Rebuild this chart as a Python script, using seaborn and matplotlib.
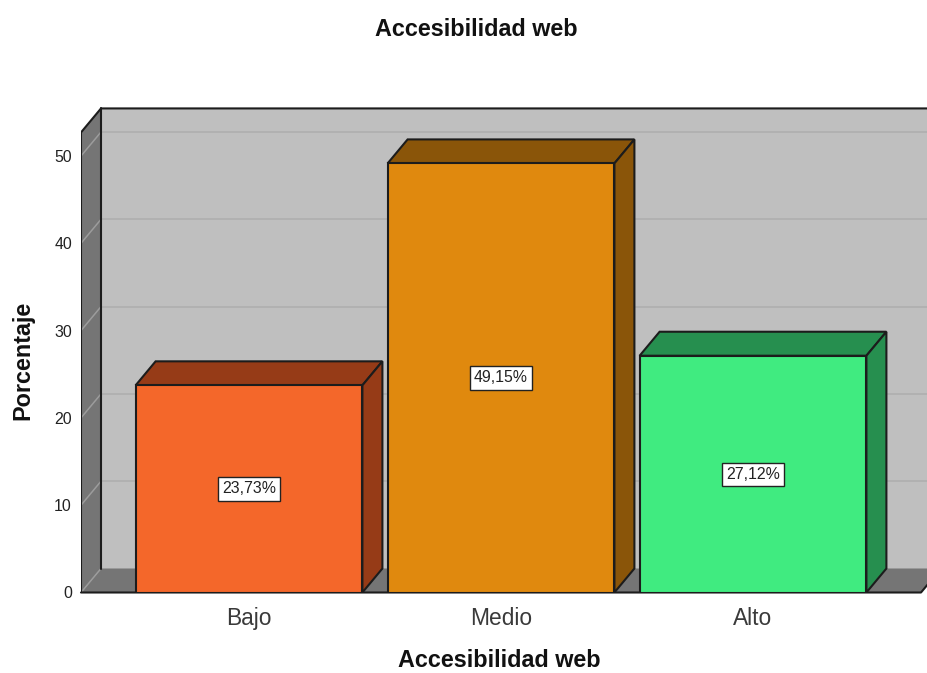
#!/usr/bin/env python3

import matplotlib
matplotlib.use('Agg')
import matplotlib.pyplot as plt
from matplotlib.patches import Rectangle
import pandas as pd
import seaborn as sns

categorias = ['Bajo', 'Medio', 'Alto']
porcentajes = [23.73, 49.15, 27.12]
etiquetas = ['23,73%', '49,15%', '27,12%']
ticks_y = [0, 10, 20, 30, 40, 50]

colores_frente = ['#F4672A', '#E0890E', '#40EB80']
colores_lado = ['#963B17', '#8A5509', '#268F4F']

ANCHO, ALTO = 927, 673
PX_X = 252.0   # pixeles por categoria
PX_Y = 8.73    # pixeles por unidad de porcentaje
X0, Y0 = 249.0, 592.5  # pixel de la categoria 0 / del valor 0
DX, DY = 20 / PX_X, 24 / PX_Y  # profundidad del efecto 3D

sns.set_theme(style='white')
plt.rcParams['font.family'] = ['Liberation Sans', 'DejaVu Sans']

df = pd.DataFrame({'categoria': categorias, 'porcentaje': porcentajes})

fig = plt.figure(figsize=(ANCHO / 100, ALTO / 100), dpi=100)
izq, arriba = 81, 100
ax = fig.add_axes([izq / ANCHO, (ALTO - Y0) / ALTO,
                   (ANCHO - izq) / ANCHO, (Y0 - arriba) / ALTO])

xmin = (izq - X0) / PX_X
xfin = (921 - X0) / PX_X
xmax = (ANCHO - X0) / PX_X
ytop = 52.7

# paredes del grafico
ax.fill([xmin + DX, xfin + DX, xfin + DX, xmin + DX],
        [DY, DY, ytop + DY, ytop + DY], color='#BFBFBF', lw=0, zorder=0)
ax.fill([xmin, xmin + DX, xmin + DX, xmin],
        [0, DY, ytop + DY, ytop], facecolor='#757575', edgecolor='none', zorder=0.5)
ax.fill([xmin, xfin, xfin + DX, xmin + DX],
        [0, 0, DY, DY], facecolor='#757575', edgecolor='none', zorder=0.5)

for t in ticks_y:
    if t > 0:
        ax.plot([xmin + DX, xfin + DX], [t + DY, t + DY], color='#B0B0B0', lw=1.3, zorder=1)
    ax.plot([xmin, xmin + DX], [t, t + DY], color='#9C9C9C', lw=1.1, zorder=1)

borde = '#1C1C1C'
ax.plot([xmin, xmin + DX, xfin + DX], [ytop, ytop + DY, ytop + DY], color=borde, lw=1.5, zorder=1.5)
ax.plot([xmin + DX, xmin + DX], [DY, ytop + DY], color=borde, lw=1.5, zorder=1.5)
ax.plot([xmin, xmin], [0, ytop], color=borde, lw=1.5, zorder=1.5)
ax.plot([xmin, xfin, xfin + DX], [0, 0, DY], color=borde, lw=1.5, zorder=1.5, clip_on=False)

sns.barplot(data=df, x='categoria', y='porcentaje', hue='categoria',
            palette=colores_frente, order=categorias, hue_order=categorias,
            width=0.9, saturation=1, legend=False, edgecolor=borde, linewidth=1.5,
            zorder=3, ax=ax)

# caras superior y lateral de cada barra, a partir de las barras de seaborn
barras = [p for p in ax.patches if isinstance(p, Rectangle)]
for barra, lado, etiqueta in zip(barras, colores_lado, etiquetas):
    x0 = barra.get_x()
    x1 = x0 + barra.get_width()
    h = barra.get_height()
    ax.fill([x0, x1, x1 + DX, x0 + DX], [h, h, h + DY, h + DY],
            facecolor=lado, edgecolor=borde, lw=1.5, zorder=2.5)
    ax.fill([x1, x1 + DX, x1 + DX, x1], [0, DY, h + DY, h],
            facecolor=lado, edgecolor=borde, lw=1.5, zorder=2.5)
    ax.text((x0 + x1) / 2, h / 2, etiqueta, ha='center', va='center', fontsize=11.4,
            color='#222222', zorder=5,
            bbox=dict(boxstyle='square,pad=0.26', facecolor='white', edgecolor='#222222', lw=1))

ax.set_xlim(xmin, xmax)
ax.set_ylim(0, (Y0 - arriba) / PX_Y)
ax.set_yticks(ticks_y)
ax.set_yticklabels([str(t) for t in ticks_y], fontsize=11.4, color='#222222')
ax.tick_params(axis='y', length=0, pad=6.5)
ax.tick_params(axis='x', length=0, pad=10.5, labelsize=16.4, labelcolor='#3A3A3A')
ax.patch.set_alpha(0)
sns.despine(ax=ax, left=True, bottom=True)

ax.set_xlabel('')
ax.set_ylabel('')
fig.text(499.5 / ANCHO, 1 - 667 / ALTO, 'Accesibilidad web', ha='center', va='baseline',
         fontsize=16.8, fontweight='bold', color='#111111')
fig.text(23 / ANCHO, 1 - 360.5 / ALTO, 'Porcentaje', ha='center', va='center', rotation=90,
         fontsize=16.8, fontweight='bold', color='#111111')
fig.text(476 / ANCHO, 1 - 36 / ALTO, 'Accesibilidad web', ha='center', va='baseline',
         fontsize=16.8, fontweight='bold', color='#111111')

plt.savefig('out.png', dpi=100, facecolor='white')
plt.close()
